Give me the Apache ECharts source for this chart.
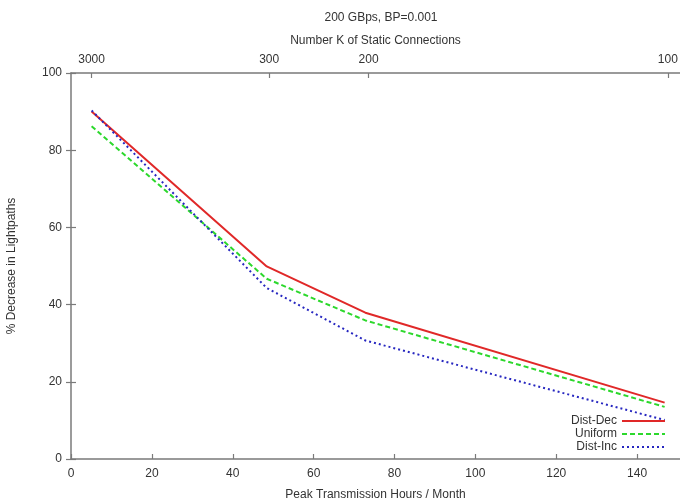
<!DOCTYPE html>
<html>
<head>
<meta charset="utf-8">
<script src="https://cdn.jsdelivr.net/npm/echarts@6/dist/echarts.min.js"></script>
<style>
  html, body { margin: 0; padding: 0; background: #fff; }
  #chart { width: 680px; height: 501px; }
</style>
</head>
<body>
<div id="chart"></div>
<script>
// Peak transmission hours per month for each static connection count
const hoursX = [5.1, 48.4, 72.8, 146.8];

// % decrease in lightpaths per distribution
const distDec = [90.0, 49.9, 37.9, 14.6];
const uniform = [86.2, 46.7, 35.9, 13.5];
const distInc = [90.3, 44.3, 30.7, 10.1];

// Secondary (top) axis: number K of static connections, placed at their hour values
const topTickPos = [5.1, 49.0, 73.6, 147.6];
const topTickLabels = ['3000', '300', '200', '100'];

const font = 'Liberation Sans, Arial, Helvetica, sans-serif';
const axisColor = '#7a7a7a';
const textColor = '#333';

function pairs(xs, ys) { return xs.map((x, i) => [x, ys[i]]); }

const chart = echarts.init(document.getElementById('chart'), null, { renderer: 'canvas' });

const baseAxis = {
  axisLine: { show: true, onZero: false, lineStyle: { color: axisColor, width: 1.5 } },
  axisTick: { show: true, inside: true, length: 5, lineStyle: { color: axisColor, width: 1.2 } },
  splitLine: { show: false },
  axisLabel: { color: textColor, fontFamily: font, fontSize: 12 },
  nameTextStyle: { color: textColor, fontFamily: font, fontSize: 12 }
};

chart.setOption({
  animation: false,
  backgroundColor: '#fff',
  textStyle: { fontFamily: font },
  title: {
    text: '200 GBps, BP=0.001',
    left: 376,
    textAlign: 'center',
    top: 7,
    textStyle: { color: textColor, fontFamily: font, fontSize: 12, fontWeight: 'normal' }
  },
  grid: { left: 71, right: 0, top: 73, bottom: 42, containLabel: false, outerBoundsMode: 'none' },
  xAxis: [
    Object.assign({}, baseAxis, {
      type: 'value',
      position: 'bottom',
      min: 0, max: 150.6, interval: 20,
      name: 'Peak Transmission Hours / Month',
      nameLocation: 'middle',
      nameGap: 30,
      axisLabel: Object.assign({}, baseAxis.axisLabel, { margin: 9, showMaxLabel: false })
    }),
    Object.assign({}, baseAxis, {
      type: 'value',
      position: 'top',
      min: 0, max: 150.6,
      name: 'Number K of Static Connections',
      nameLocation: 'middle',
      nameGap: 26,
      axisTick: Object.assign({}, baseAxis.axisTick, { customValues: topTickPos }),
      axisLabel: Object.assign({}, baseAxis.axisLabel, {
        margin: 7,
        customValues: topTickPos,
        formatter: function (v) {
          const i = topTickPos.indexOf(v);
          return i >= 0 ? topTickLabels[i] : '';
        }
      })
    })
  ],
  yAxis: [
    Object.assign({}, baseAxis, {
      type: 'value',
      position: 'left',
      min: 0, max: 100, interval: 20,
      name: '% Decrease in Lightpaths',
      nameLocation: 'middle',
      nameGap: 53,
      axisLabel: Object.assign({}, baseAxis.axisLabel, { margin: 9 })
    }),
    Object.assign({}, baseAxis, {
      type: 'value',
      position: 'right',
      min: 0, max: 100, interval: 20,
      axisLine: { show: false },
      axisLabel: { show: false }
    })
  ],
  legend: {
    orient: 'vertical',
    right: 9,
    top: 410,
    align: 'right',
    itemWidth: 43,
    itemHeight: 8,
    itemGap: 1,
    itemStyle: { opacity: 0 },
    textStyle: { color: textColor, fontFamily: font, fontSize: 12, padding: [0, 0, 0, 0] },
    data: ['Dist-Dec', 'Uniform', 'Dist-Inc']
  },
  series: [
    {
      name: 'Dist-Dec', type: 'line', xAxisIndex: 0, yAxisIndex: 0,
      data: pairs(hoursX, distDec), symbol: 'none',
      lineStyle: { color: '#e02828', width: 2, type: 'solid' },
      itemStyle: { color: '#e02828' }
    },
    {
      name: 'Uniform', type: 'line', xAxisIndex: 0, yAxisIndex: 0,
      data: pairs(hoursX, uniform), symbol: 'none',
      lineStyle: { color: '#2cd82c', width: 2, type: [5, 3] },
      itemStyle: { color: '#2cd82c' }
    },
    {
      name: 'Dist-Inc', type: 'line', xAxisIndex: 0, yAxisIndex: 0,
      data: pairs(hoursX, distInc), symbol: 'none',
      lineStyle: { color: '#2727c0', width: 2, type: [2, 3] },
      itemStyle: { color: '#2727c0' }
    }
  ]
});
</script>
</body>
</html>
